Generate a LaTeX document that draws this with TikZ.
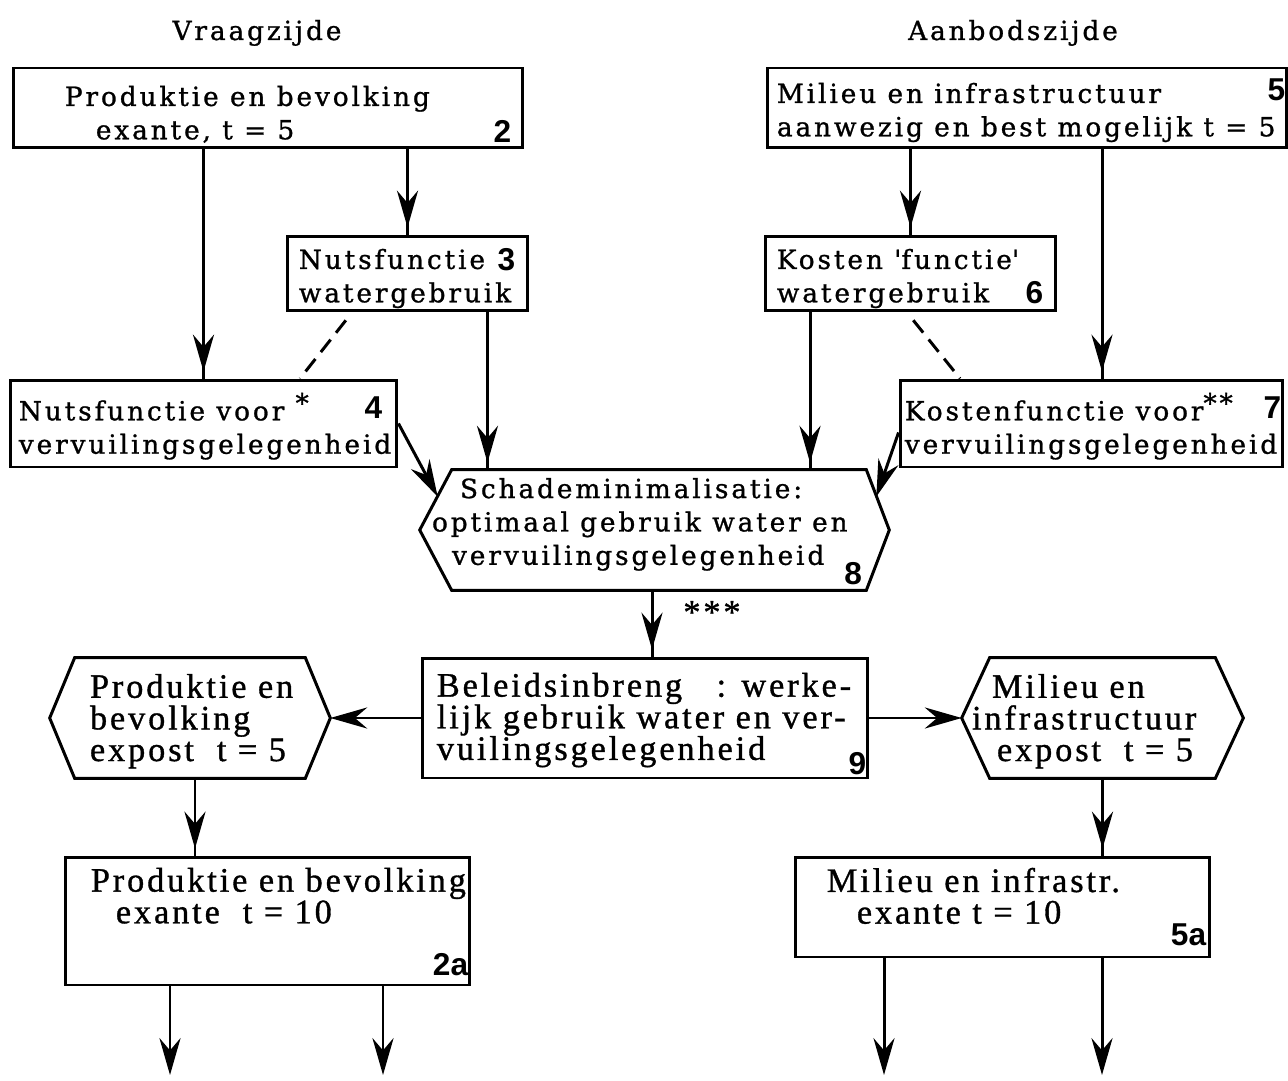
\documentclass[tikz,border=0pt]{standalone}
\usepackage{fontspec}
\setmainfont{DejaVu Serif}
\newfontfamily\upperfam{DejaVu Serif}[LetterSpace=11, FakeBold=1]
\newfontfamily\lowerfam{Liberation Serif}[LetterSpace=8.5, FakeBold=1]
\newfontfamily\numfam{Liberation Sans}
\usetikzlibrary{arrows.meta,positioning,calc,decorations.markings}

\begin{document}
\begin{tikzpicture}[x=0.02cm, y=-0.02cm,
    box/.style={draw, line width=1.7pt, inner sep=0pt},
    hexa/.style={inner sep=0pt},
    upper/.style={font=\upperfam\fontsize{15}{19}\selectfont, align=left, inner sep=0pt, anchor=north west},
    lower/.style={font=\lowerfam\fontsize{19.5}{18}\selectfont, align=left, inner sep=0pt, anchor=north west},
    num/.style={font=\numfam\bfseries\fontsize{18}{18}\selectfont, inner sep=0pt},
    flow/.style={line width=1.7pt, -{Stealth[length=21pt,width=12pt,inset=7pt]}},
    flowmid/.style={line width=1.7pt, postaction={decorate},
        decoration={markings, mark=at position -4pt with {\arrow{Stealth[length=21pt,width=12pt,inset=7pt]}}}},
    link/.style={line width=1.7pt, dash pattern=on 9pt off 5pt, shorten <=0.2cm}]
    \useasboundingbox (0,0) rectangle (1288,1081);

    % column titles
    \node[upper, anchor=base] (vraag) at (257,40) {Vraagzijde};
    \node[upper, anchor=base] (aanbod) at (1013,40) {Aanbodszijde};

    % frames
    \node[box, minimum width=10.2cm, minimum height=1.6cm] (b2) at (268,108) {};
    \node[box, minimum width=10.4cm, minimum height=1.6cm] (b5) at (1027,108) {};
    \node[box, minimum width=4.82cm, minimum height=1.5cm] (b3) at (407.5,273.5) {};
    \node[box, minimum width=5.82cm, minimum height=1.5cm] (b6) at (910.5,273.5) {};
    \node[box, minimum width=7.74cm, minimum height=1.74cm] (b4) at (203.5,423.5) {};
    \node[box, minimum width=7.66cm, minimum height=1.74cm] (b7) at (1091.5,423.5) {};
    \node[hexa, minimum width=8.28cm, minimum height=2.4cm] (h8) at (659,530) {};
    \node[box, minimum width=8.92cm, minimum height=2.4cm] (b9) at (645,718) {};
    \node[hexa, minimum width=4.6cm, minimum height=2.4cm] (hl) at (190,718) {};
    \node[hexa, minimum width=4.5cm, minimum height=2.4cm] (hr) at (1102.5,718) {};
    \node[box, minimum width=8.1cm, minimum height=2.56cm] (b2a) at (267.5,921) {};
    \node[box, minimum width=8.3cm, minimum height=2cm] (b5a) at (1002.5,907) {};
    \foreach \h/\l/\r in {h8/0.64/0.46, hl/0.5/0.5, hr/0.56/0.56}
        \draw[line width=1.7pt] (\h.north west) -- (\h.north east) -- ([xshift=\r cm]\h.east)
            -- (\h.south east) -- (\h.south west) -- ([xshift=-\l cm]\h.west) -- cycle;

    % texts
    \node[upper] (b2t) at ([shift={(53,19)}]b2.north west) {Produktie en bevolking\\\hspace*{0.62cm}exante, t = 5};
    \node[upper] (b5t) at ([shift={(11,16)}]b5.north west) {Milieu en infrastructuur\\aanwezig en best mogelijk t = 5};
    \node[upper] (b3t) at ([shift={(13,14)}]b3.north west) {Nutsfunctie\\watergebruik};
    \node[upper] (b6t) at ([shift={(13,14)}]b6.north west) {Kosten \textquotesingle functie\textquotesingle\\watergebruik};
    \node[upper] (b4t) at ([shift={(10,14)}]b4.north west) {Nutsfunctie voor \raisebox{0.3em}{*}\\vervuilingsgelegenheid};
    \node[upper] (b7t) at ([shift={(6,14)}]b7.north west) {Kostenfunctie voor\raisebox{0.3em}{**}\\vervuilingsgelegenheid};
    \node[upper] (h8t) at ([shift={(-20,8)}]h8.north west) {\hspace*{0.56cm}Schademinimalisatie:\\optimaal gebruik water en\\\hspace*{0.4cm}vervuilingsgelegenheid};
    \node[lower] (b9t) at ([shift={(16,16)}]b9.north west) {Beleidsinbreng\ \ \ : werke-\\lijk gebruik water en ver-\\vuilingsgelegenheid};
    \node[lower] (hlt) at ([shift={(15,16)}]hl.north west) {Produktie en\\bevolking\\expost\ \ t = 5};
    \node[lower] (hrt) at ([shift={(-18,16)}]hr.north west) {\hspace*{0.4cm}Milieu en\\infrastructuur\\\hspace*{0.5cm}expost\ \ t = 5};
    \node[lower] (b2at) at ([shift={(27,12)}]b2a.north west) {Produktie en bevolking\\\hspace*{0.5cm}exante\ \ t = 10};
    \node[lower] (b5at) at ([shift={(33,12)}]b5a.north west) {Milieu en infrastr.\\\hspace*{0.6cm}exante t = 10};
    \node[lower, anchor=west] (stars) at ([shift={(24,22)}]h8.south) {***};

    % numbers
    \node[num, anchor=south east] (n2) at ([shift={(-13,-7)}]b2.south east) {2};
    \node[num, anchor=north east] (n5) at ([shift={(-3,12)}]b5.north east) {5};
    \node[num, anchor=north east] (n3) at ([shift={(-14,14)}]b3.north east) {3};
    \node[num, anchor=south east] (n6) at ([shift={(-14,-8)}]b6.south east) {6};
    \node[num, anchor=north east] (n4) at ([shift={(-16,18)}]b4.north east) {4};
    \node[num, anchor=north east] (n7) at ([shift={(-3,18)}]b7.north east) {7};
    \node[num, anchor=south east] (n8) at ([shift={(-4,-5)}]h8.south east) {8};
    \node[num, anchor=south east] (n9) at ([shift={(-3,-4)}]b9.south east) {9};
    \node[num, anchor=south east] (n2a) at ([shift={(-3,-10)}]b2a.south east) {2a};
    \node[num, anchor=south east] (n5a) at ([shift={(-5,-12)}]b5a.south east) {5a};

    % connectors
    \draw[flowmid] (b2.south -| b4.north) -- (b4.north);
    \draw[flowmid] (b2.south -| b3.north) -- (b3.north);
    \draw[flowmid] ([xshift=1.6cm]b3.south) -- ([xshift=1.6cm]b3.south |- h8.north);
    \draw[link] ([xshift=-1.11cm]b3.south) -- ([xshift=1.93cm]b4.north);
    \draw[flow] (b4.east) -- ([shift={(-14,27)}]h8.north west);
    \draw[flowmid] (b5.south -| b6.north) -- (b6.north);
    \draw[flowmid] ([xshift=0.21cm]b7.north |- b5.south) -- ([xshift=0.21cm]b7.north);
    \draw[flowmid] ([xshift=-2.01cm]b6.south) -- ([xshift=-2.01cm]b6.south |- h8.north);
    \draw[link] ([xshift=-0.07cm]b6.south) -- ([xshift=-2.63cm]b7.north);
    \draw[flow] ([shift={(0,9)}]b7.west) -- ([shift={(10,27)}]h8.north east);
    \draw[flowmid] ([xshift=-0.14cm]h8.south) -- ([xshift=-0.14cm]h8.south |- b9.north);
    \draw[flow] (b9.west) -- ([xshift=0.5cm]hl.east);
    \draw[flow] (b9.east) -- ([xshift=-0.56cm]hr.west);
    \draw[flowmid] ([xshift=0.1cm]hl.south) -- ([xshift=0.1cm]hl.south |- b2a.north);
    \draw[flowmid] (hr.south) -- (hr.south |- b5a.north);
    \coordinate (out1) at (170,1075);
    \coordinate (out2) at (383,1075);
    \coordinate (out3) at (884,1075);
    \coordinate (out4) at (1102,1075);
    \foreach \o/\b in {out1/b2a, out2/b2a, out3/b5a, out4/b5a}
        \draw[flow] (\o |- \b.south) -- (\o);
\end{tikzpicture}
\end{document}
